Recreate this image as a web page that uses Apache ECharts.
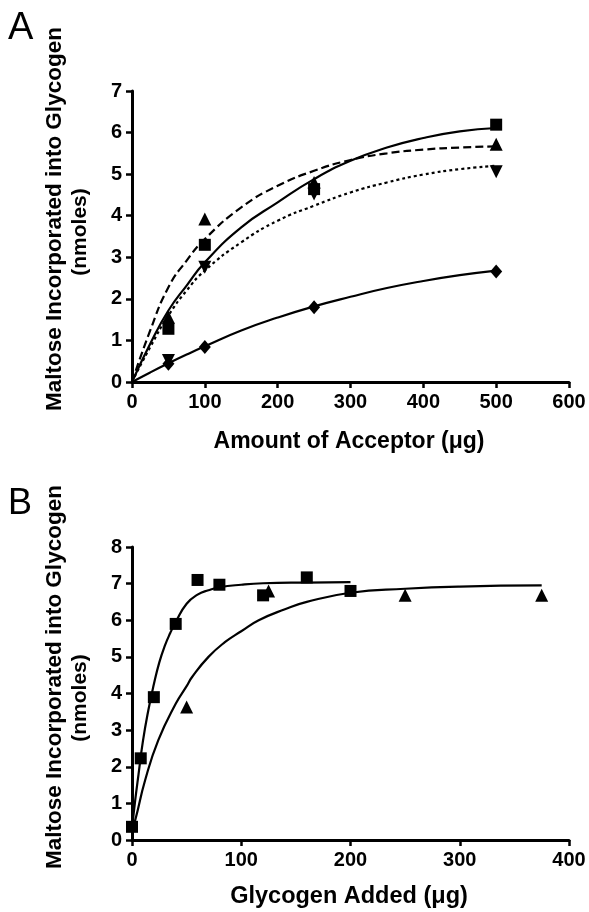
<!DOCTYPE html>
<html>
<head>
<meta charset="utf-8">
<script src="https://cdn.jsdelivr.net/npm/echarts@6/dist/echarts.min.js"></script>
<style>
html,body{margin:0;padding:0;background:#fff;}
#c{width:589px;height:912px;}
</style>
</head>
<body>
<div id="c"></div>
<script>
// ---------- Panel A data ----------
const aX = [50, 100, 250, 500];
const aSquares = [1.28, 3.30, 4.64, 6.19];
const aTriUp = [1.56, 3.92, 4.80, 5.72];
const aTriDown = [0.52, 2.76, 4.52, 5.06];
const aDiamond = [0.44, 0.84, 1.80, 2.66];

// fitted curves
const aCurveX = [0, 25, 50, 75, 100, 150, 200, 250, 300, 350, 400, 450, 500];
const aCurveSolid = [0, 0.92, 1.72, 2.32, 2.88, 3.72, 4.32, 4.88, 5.32, 5.64, 5.87, 6.03, 6.11];
const aCurveDashed = [0, 1.24, 2.28, 2.92, 3.44, 4.20, 4.72, 5.08, 5.34, 5.50, 5.59, 5.64, 5.67];
const aCurveDotted = [0, 0.84, 1.60, 2.20, 2.68, 3.36, 3.88, 4.24, 4.56, 4.80, 4.99, 5.12, 5.20];
const aCurveDiamond = [0, 0.23, 0.45, 0.66, 0.86, 1.24, 1.55, 1.82, 2.05, 2.26, 2.43, 2.57, 2.68];

// ---------- Panel B data ----------
const bSqX = [0, 8, 20, 40, 60, 80, 120, 160, 200];
const bSqY = [0.36, 2.23, 3.90, 5.90, 7.10, 6.97, 6.68, 7.17, 6.80];
const bTriX = [50, 125, 250, 375];
const bTriY = [3.63, 6.80, 6.68, 6.68];

const bSqCurveX = [0, 3, 6, 10, 15, 20, 25, 30, 35, 40, 50, 60, 70, 80, 100, 120, 160, 200];
const bSqCurveY = [0.30, 1.10, 1.80, 2.70, 3.55, 4.25, 4.85, 5.30, 5.65, 5.95, 6.45, 6.70, 6.82, 6.90, 6.97, 7.01, 7.03, 7.04];
const bTriCurveX = [0, 3, 12, 24, 40, 50, 55, 70, 85, 100, 116, 140, 160, 200, 250, 300, 375];
const bTriCurveY = [0.30, 0.55, 1.63, 2.72, 3.72, 4.20, 4.45, 5.00, 5.40, 5.70, 6.00, 6.30, 6.50, 6.75, 6.86, 6.92, 6.95];

// ticks
const aXTicks = {min: 0, max: 600, interval: 100};
const aYTicks = {min: 0, max: 7, interval: 1};
const bXTicks = {min: 0, max: 400, interval: 100};
const bYTicks = {min: 0, max: 8, interval: 1};

// texts
const yTitle1 = 'Maltose Incorporated into Glycogen';
const yTitle2 = '(nmoles)';
const aXTitle = 'Amount of Acceptor (\u03bcg)';
const bXTitle = 'Glycogen Added (\u03bcg)';

const FONT = "'Liberation Sans', Arial, Helvetica, sans-serif";
const zip = (xs, ys) => xs.map((x, i) => [x, ys[i]]);

function axisCommon(t) {
  return {
    type: 'value', min: t.min, max: t.max, interval: t.interval,
    axisLine: {show: true, onZero: false, lineStyle: {color: '#000', width: 3}},
    axisTick: {show: true, length: 6, lineStyle: {color: '#000', width: 2.5}},
    splitLine: {show: false},
    axisLabel: {color: '#000', fontSize: 20, fontWeight: 'bold', fontFamily: FONT, margin: 10}
  };
}

function markers(xi, yi, xs, ys, symbol, size, rotate) {
  return {
    type: 'scatter', xAxisIndex: xi, yAxisIndex: yi,
    data: zip(xs, ys), symbol: symbol, symbolSize: size, symbolRotate: rotate || 0,
    itemStyle: {color: '#000', opacity: 1}, z: 5, silent: true
  };
}
function curve(xi, yi, xs, ys, type) {
  return {
    type: 'line', xAxisIndex: xi, yAxisIndex: yi,
    data: zip(xs, ys), smooth: 0.5, showSymbol: false, symbol: 'none',
    lineStyle: {color: '#000', width: 2.2, type: type}, z: 4, silent: true
  };
}

const chart = echarts.init(document.getElementById('c'), null, {renderer: 'canvas'});
chart.setOption({
  backgroundColor: '#fff',
  animation: false,
  grid: [
    {left: 132, top: 91, width: 437, height: 291},
    {left: 132, top: 547, width: 437, height: 293}
  ],
  xAxis: [
    Object.assign(axisCommon(aXTicks), {gridIndex: 0}),
    Object.assign(axisCommon(bXTicks), {gridIndex: 1})
  ],
  yAxis: [
    Object.assign(axisCommon(aYTicks), {gridIndex: 0}),
    Object.assign(axisCommon(bYTicks), {gridIndex: 1})
  ],
  series: [
    curve(0, 0, aCurveX, aCurveSolid, 'solid'),
    curve(0, 0, aCurveX, aCurveDashed, [8, 4]),
    curve(0, 0, aCurveX, aCurveDotted, [3, 3]),
    curve(0, 0, aCurveX, aCurveDiamond, 'solid'),
    markers(0, 0, aX, aSquares, 'rect', 12),
    markers(0, 0, aX, aTriUp, 'triangle', 13),
    markers(0, 0, aX, aTriDown, 'triangle', 13, 180),
    markers(0, 0, aX, aDiamond, 'diamond', [12, 14]),
    curve(1, 1, bSqCurveX, bSqCurveY, 'solid'),
    curve(1, 1, bTriCurveX, bTriCurveY, 'solid'),
    markers(1, 1, bSqX, bSqY, 'rect', 12),
    markers(1, 1, bTriX, bTriY, 'triangle', 13)
  ],
  graphic: [
    {type: 'text', x: 8, y: 10, style: {text: 'A', fontSize: 38, fontFamily: FONT, fill: '#000'}},
    {type: 'text', x: 8, y: 486, style: {text: 'B', fontSize: 36, fontFamily: FONT, fill: '#000'}},
    {type: 'text', x: 55, y: 219, rotation: Math.PI / 2,
     style: {text: yTitle1, fontSize: 22.5, fontWeight: 'bold', fontFamily: FONT, fill: '#000', align: 'center', verticalAlign: 'middle'}},
    {type: 'text', x: 80, y: 232, rotation: Math.PI / 2,
     style: {text: yTitle2, fontSize: 21, fontWeight: 'bold', fontFamily: FONT, fill: '#000', align: 'center', verticalAlign: 'middle'}},
    {type: 'text', x: 55, y: 677, rotation: Math.PI / 2,
     style: {text: yTitle1, fontSize: 22.5, fontWeight: 'bold', fontFamily: FONT, fill: '#000', align: 'center', verticalAlign: 'middle'}},
    {type: 'text', x: 80, y: 698, rotation: Math.PI / 2,
     style: {text: yTitle2, fontSize: 21, fontWeight: 'bold', fontFamily: FONT, fill: '#000', align: 'center', verticalAlign: 'middle'}},
    {type: 'text', x: 349, y: 442,
     style: {text: aXTitle, fontSize: 23, fontWeight: 'bold', fontFamily: FONT, fill: '#000', align: 'center', verticalAlign: 'middle'}},
    {type: 'text', x: 349, y: 897,
     style: {text: bXTitle, fontSize: 23.5, fontWeight: 'bold', fontFamily: FONT, fill: '#000', align: 'center', verticalAlign: 'middle'}}
  ]
});
</script>
</body>
</html>
